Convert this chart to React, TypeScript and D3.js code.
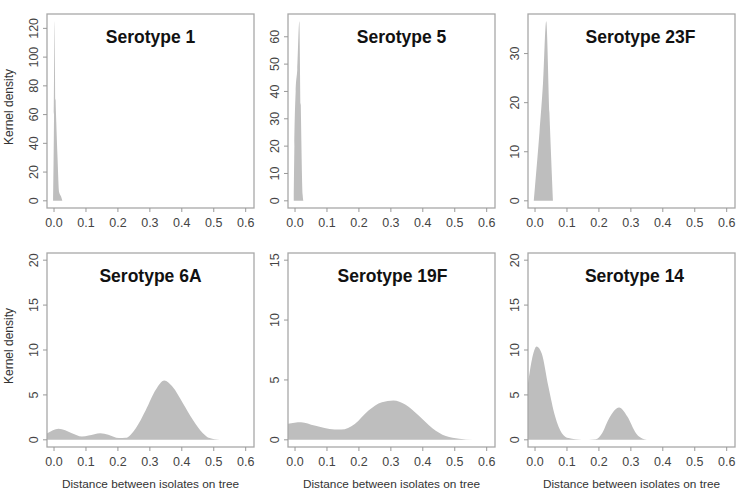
import React from "react";
import { area, curveMonotoneX, max, scaleLinear } from "d3";

const titles = [
  "Serotype 1",
  "Serotype 5",
  "Serotype 23F",
  "Serotype 6A",
  "Serotype 19F",
  "Serotype 14"
];

// kernel density estimates, [distance, density]
const sero1: [number, number][] = [
  [-0.003, 0], [0.0, 60], [0.002, 125], [0.005, 70], [0.007, 55],
  [0.011, 30], [0.016, 6], [0.022, 3], [0.026, 0]
];
const sero5: [number, number][] = [
  [-0.004, 0], [-0.002, 20], [0.002, 40], [0.007, 48], [0.0135, 65.7],
  [0.018, 35], [0.024, 2], [0.026, 0]
];
const sero23F: [number, number][] = [
  [-0.004, 0], [0.0, 3], [0.014, 14], [0.025, 24], [0.035, 36.6],
  [0.045, 18], [0.056, 0]
];
const sero6A: [number, number][] = [
  [-0.05, 0.3], [-0.021, 0.74], [0.014, 1.22], [0.056, 0.74], [0.087, 0.37],
  [0.108, 0.48], [0.145, 0.74], [0.17, 0.56], [0.203, 0.19], [0.224, 0.22],
  [0.256, 1.3], [0.287, 3.3], [0.319, 5.6], [0.345, 6.6], [0.371, 5.9],
  [0.403, 4.1], [0.435, 2.2], [0.466, 0.74], [0.487, 0.19], [0.519, 0]
];
const sero19F: [number, number][] = [
  [-0.05, 1.2], [-0.026, 1.33], [0.019, 1.47], [0.061, 1.19], [0.124, 0.86],
  [0.145, 0.86], [0.187, 1.33], [0.23, 2.44], [0.272, 3.14], [0.308, 3.28],
  [0.345, 2.94], [0.387, 2.03], [0.43, 0.97], [0.472, 0.31], [0.514, 0.08],
  [0.556, 0]
];
const sero14: [number, number][] = [
  [-0.05, 1.5], [-0.024, 5.9], [-0.01, 8.9], [0.005, 10.4], [0.021, 9.6],
  [0.042, 5.9], [0.063, 2.6], [0.084, 0.74], [0.105, 0.19], [0.147, 0],
  [0.19, 0.07], [0.21, 0.74], [0.232, 2.4], [0.263, 3.6], [0.289, 2.6],
  [0.316, 0.74], [0.342, 0.07], [0.358, 0]
];

const densities = [sero1, sero5, sero23F, sero6A, sero19F, sero14];

const xTicks = [0, 0.1, 0.2, 0.3, 0.4, 0.5, 0.6];
const yTicks = [
  [0, 20, 40, 60, 80, 100, 120],
  [0, 10, 20, 30, 40, 50, 60],
  [0, 10, 20, 30],
  [0, 5, 10, 15, 20],
  [0, 5, 10, 15],
  [0, 5, 10, 15, 20]
];
// null: y range fitted to the estimate
const yLimits: (number | null)[] = [null, null, null, 20, 15, 20];

const COLS = [47, 288, 528];
const ROWS = [14, 253];
const W = 207;
const H = 194;
const TITLE_SHIFT = [0, 10, 9, 0, 1, 3];
const FONT = "Liberation Sans, Arial, sans-serif";

const Panel: React.FC<{ i: number }> = ({ i }) => {
  const left = COLS[i % 3];
  const top = ROWS[Math.floor(i / 3)];
  const data = densities[i];
  const hi = yLimits[i] ?? max(data, d => d[1])!;
  const pad = hi * 0.04;

  const x = scaleLinear().domain([-0.022, 0.626]).range([left, left + W]);
  const y = scaleLinear().domain([-pad, hi + pad]).range([top + H, top]);

  const shape = area<[number, number]>()
    .x(d => x(d[0]))
    .y0(y(0))
    .y1(d => y(d[1]))
    .curve(curveMonotoneX);

  return (
    <g fontFamily={FONT}>
      <clipPath id={`clip${i}`}>
        <rect x={left} y={top} width={W} height={H} />
      </clipPath>
      <path d={shape(data)!} fill="#bebebe" clipPath={`url(#clip${i})`} />
      <rect x={left} y={top} width={W} height={H} fill="none" stroke="#a8a8a8" strokeWidth={1.3} />
      <text
        x={left + W / 2 + TITLE_SHIFT[i]}
        y={top + 29}
        textAnchor="middle"
        fontWeight="bold"
        fontSize={17.5}
        fill="#111"
      >
        {titles[i]}
      </text>
      {xTicks.map(v => (
        <g key={v} transform={`translate(${x(v)},${top + H})`}>
          <line y2={4} stroke="#999" />
          <text y={18.5} textAnchor="middle" fontSize={12.5} fill="#444">
            {v.toFixed(1)}
          </text>
        </g>
      ))}
      {yTicks[i].map(v => (
        <g key={v} transform={`translate(${left},${y(v)})`}>
          <line x2={-4} stroke="#999" />
          <text transform="translate(-9,0) rotate(-90)" textAnchor="middle" fontSize={12.5} fill="#444">
            {v}
          </text>
        </g>
      ))}
      {i % 3 === 0 && (
        <text
          transform={`translate(13,${top + H / 2 - 4}) rotate(-90)`}
          textAnchor="middle"
          fontSize={12}
          fill="#333"
        >
          Kernel density
        </text>
      )}
      {i >= 3 && (
        <text x={left + W / 2} y={top + H + 40.5} textAnchor="middle" fontSize={11.8} fill="#333">
          Distance between isolates on tree
        </text>
      )}
    </g>
  );
};

export default function App() {
  return (
    <svg
      width={742}
      height={492}
      style={{ position: "absolute", left: 0, top: 0, background: "#fff" }}
    >
      {titles.map((_, i) => (
        <Panel key={i} i={i} />
      ))}
    </svg>
  );
}
